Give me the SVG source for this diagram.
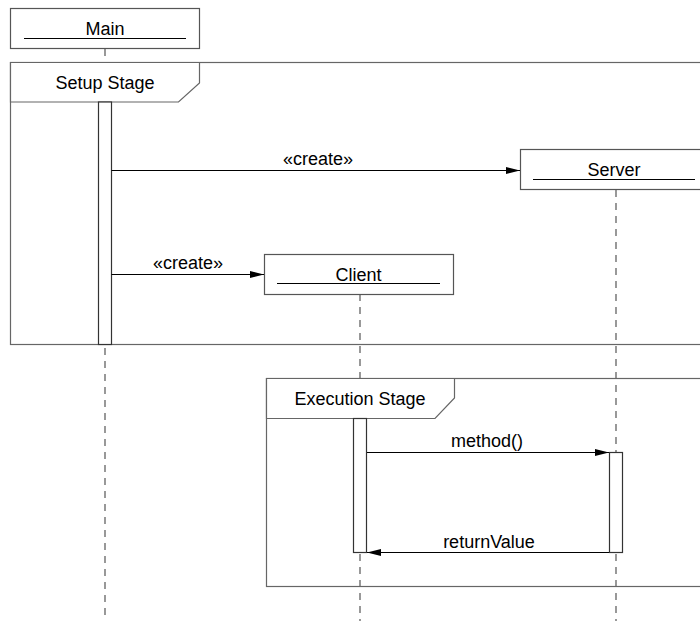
<svg xmlns="http://www.w3.org/2000/svg" width="700" height="621" viewBox="0 0 700 621">
  <style>
    text { font-family: "Liberation Sans", Arial, sans-serif; font-size: 18px; fill: #000; text-anchor: middle; }
    .frame { fill: none; stroke: #666; stroke-width: 1.2; }
    .tab { fill: #fff; stroke: #666; stroke-width: 1.2; }
    .head { fill: #fff; stroke: #555; stroke-width: 1.2; }
    .uline { stroke: #000; stroke-width: 1.2; }
    .life { stroke: #555; stroke-width: 1.2; stroke-dasharray: 7 6; fill: none; }
    .act { fill: #fff; stroke: #333; stroke-width: 1.2; }
    .msg { stroke: #000; stroke-width: 1; fill: none; marker-end: url(#arrow); }
  </style>
  <defs>
    <marker id="arrow" markerWidth="14" markerHeight="8" refX="14" refY="4" orient="auto" markerUnits="userSpaceOnUse">
      <path d="M0,0.5 L14,4 L0,7.5 Z" fill="#000"/>
    </marker>
  </defs>
  <rect width="700" height="621" fill="#fff"/>

  <!-- lifelines -->
  <g id="lifelines">
    <line class="life" x1="105" y1="49" x2="105" y2="621"/>
    <line class="life" x1="360" y1="294" x2="360" y2="621"/>
    <line class="life" x1="616" y1="190" x2="616" y2="621"/>
  </g>

  <!-- combined fragments -->
  <g id="setup-stage">
    <rect class="frame" x="10.5" y="62.5" width="700" height="282"/>
    <path class="tab" d="M10.5,62.5 L199.5,62.5 L199.5,83 L178.5,102 L10.5,102 Z"/>
    <text x="105" y="89">Setup Stage</text>
  </g>
  <g id="execution-stage">
    <rect class="frame" x="266.5" y="378.5" width="450" height="208"/>
    <path class="tab" d="M266.5,378.5 L454.5,378.5 L454.5,398 L435,418.5 L266.5,418.5 Z"/>
    <text x="360" y="405">Execution Stage</text>
  </g>

  <!-- participants -->
  <g id="main">
    <rect class="head" x="10.5" y="8.5" width="189" height="40"/>
    <line class="uline" x1="24" y1="38.5" x2="186" y2="38.5"/>
    <text x="105" y="35">Main</text>
    <rect class="act" x="98.5" y="102" width="13" height="242.5"/>
  </g>
  <g id="server">
    <rect class="head" x="520.5" y="149.5" width="189" height="40"/>
    <line class="uline" x1="533" y1="179.5" x2="695" y2="179.5"/>
    <text x="614" y="176">Server</text>
    <rect class="act" x="609.5" y="452.5" width="13" height="100"/>
  </g>
  <g id="client">
    <rect class="head" x="264.5" y="254.5" width="189" height="40"/>
    <line class="uline" x1="277" y1="283.5" x2="440" y2="283.5"/>
    <text x="358.5" y="281">Client</text>
    <rect class="act" x="353.5" y="418.5" width="13" height="134"/>
  </g>

  <!-- messages -->
  <g id="connectors">
    <line class="msg" x1="111.5" y1="170.5" x2="520" y2="170.5"/>
    <text x="318" y="165">«create»</text>
    <line class="msg" x1="111.5" y1="274.5" x2="264" y2="274.5"/>
    <text x="188" y="269">«create»</text>
    <line class="msg" x1="367" y1="452.5" x2="609" y2="452.5"/>
    <text x="487" y="447">method()</text>
    <line class="msg" x1="609" y1="552.5" x2="367" y2="552.5"/>
    <text x="489" y="548">returnValue</text>
  </g>
</svg>
